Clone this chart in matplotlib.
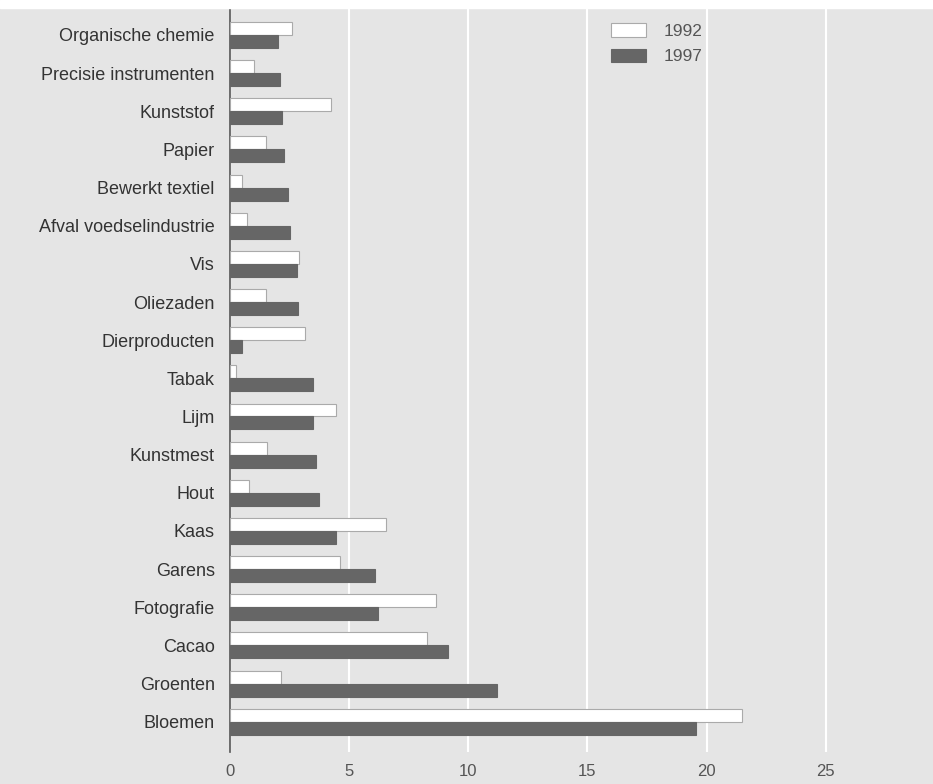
import numpy as np
import matplotlib
matplotlib.use("Agg")
from matplotlib import pyplot as plt

plt.rcParams['font.family'] = ['Liberation Sans', 'DejaVu Sans']

categories = ['Organische chemie', 'Precisie instrumenten', 'Kunststof', 'Papier',
              'Bewerkt textiel', 'Afval voedselindustrie', 'Vis', 'Oliezaden',
              'Dierproducten', 'Tabak', 'Lijm', 'Kunstmest', 'Hout', 'Kaas',
              'Garens', 'Fotografie', 'Cacao', 'Groenten', 'Bloemen']
v1992 = [2.6, 1.0, 4.25, 1.5, 0.5, 0.7, 2.9, 1.5, 3.15, 0.25, 4.45, 1.55, 0.8,
         6.55, 4.6, 8.65, 8.25, 2.15, 21.5]
v1997 = [2.0, 2.1, 2.2, 2.25, 2.45, 2.5, 2.8, 2.85, 0.5, 3.5, 3.5, 3.6, 3.75,
         4.45, 6.1, 6.2, 9.15, 11.2, 19.55]
xticks = [0, 5, 10, 15, 20, 25]

bg = '#e5e5e5'
dark = '#666666'
txt = '#333333'

fig = plt.figure(figsize=(9.33, 7.84), dpi=100, facecolor=bg)
ax = fig.add_axes([0.2465, 0.041, 0.7535, 0.949])
ax.set_facecolor(bg)

y = np.arange(len(categories))
h = 0.34
ax.barh(y - h/2, v1992, height=h, color='white', edgecolor='#aaaaaa', linewidth=0.8, label='1992', zorder=3)
ax.barh(y + h/2, v1997, height=h, color=dark, edgecolor=dark, linewidth=0.8, label='1997', zorder=3)

ax.set_ylim(18.79, -0.71)
ax.set_xlim(0, 29.5)
ax.set_xticks(xticks)
ax.set_xticklabels([str(t) for t in xticks], color='#555555', fontsize=12)
ax.set_yticks(y)
ax.set_yticklabels(categories, color=txt, fontsize=13)
ax.tick_params(length=0)
ax.tick_params(axis='y', pad=11)
ax.tick_params(axis='x', pad=9)
ax.xaxis.grid(True, color='white', linewidth=1.5, zorder=0)
for s in ['top', 'right', 'bottom']:
    ax.spines[s].set_visible(False)
ax.spines['left'].set_color('#555555')
ax.spines['left'].set_linewidth(1.2)

leg = ax.legend(loc='upper left', bbox_to_anchor=(0.52, 1.0), frameon=False,
                fontsize=12.5, handlelength=2.0, handleheight=0.8, labelspacing=0.55,
                handletextpad=1.0)
for t in leg.get_texts():
    t.set_color('#555555')

# witte strook bovenaan
fig.patches.append(plt.Rectangle((0, 0.99), 1, 0.01, transform=fig.transFigure,
                                 color='white', zorder=10))

fig.savefig('out.png', dpi=100, facecolor=bg)
